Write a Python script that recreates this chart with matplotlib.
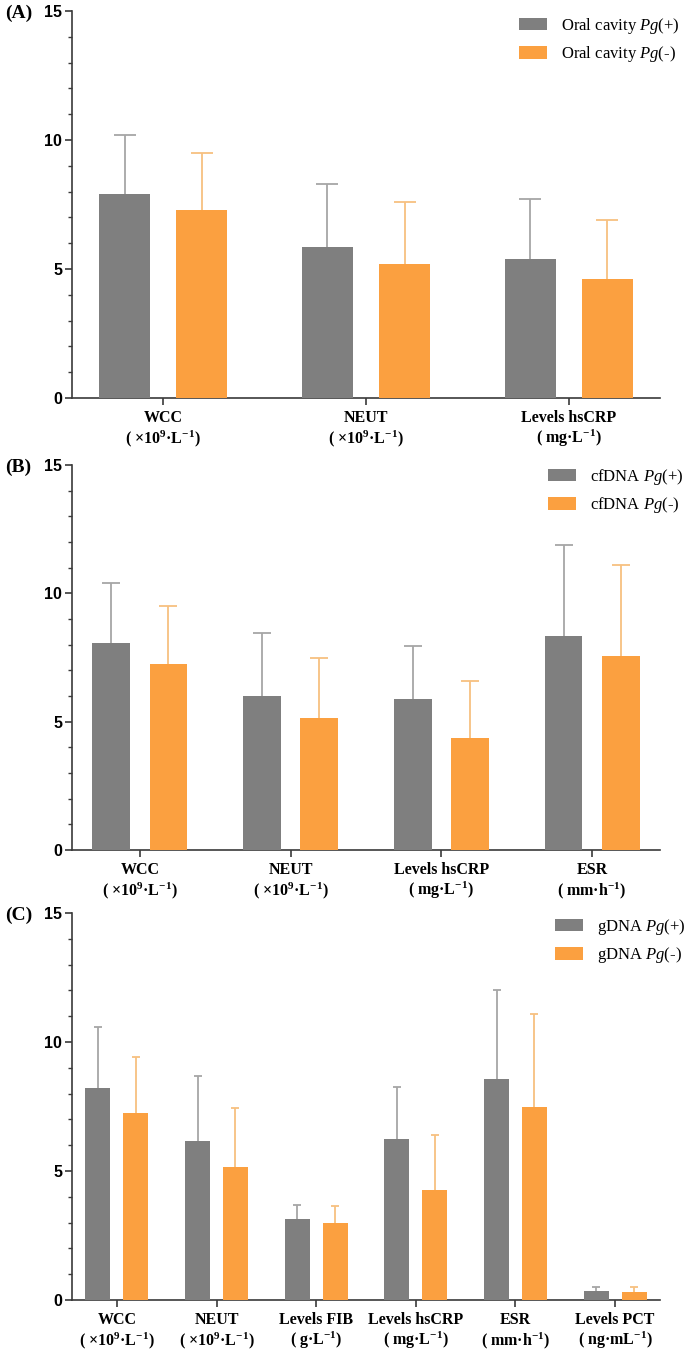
import numpy as np
import matplotlib
matplotlib.use('Agg')
import matplotlib.pyplot as plt

plt.rcParams['mathtext.fontset'] = 'custom'
plt.rcParams['mathtext.rm'] = 'Liberation Serif:bold'
plt.rcParams['mathtext.it'] = 'Liberation Serif:italic'
plt.rcParams['mathtext.bf'] = 'Liberation Serif:bold'

# category labels
lab_wcc = 'WCC\n( ×10$^{9}$·L$^{-1}$)'
lab_neut = 'NEUT\n( ×10$^{9}$·L$^{-1}$)'
lab_fib = 'Levels FIB\n( g·L$^{-1}$)'
lab_crp = 'Levels hsCRP\n( mg·L$^{-1}$)'
lab_esr = 'ESR\n( mm·h$^{-1}$)'
lab_pct = 'Levels PCT\n( ng·mL$^{-1}$)'

# panel A - oral cavity
cats_a = [lab_wcc, lab_neut, lab_crp]
pos_a = [7.9, 5.85, 5.4]
pos_a_top = [10.2, 8.3, 7.7]
neg_a = [7.3, 5.2, 4.6]
neg_a_top = [9.5, 7.6, 6.9]

# panel B - cfDNA
cats_b = [lab_wcc, lab_neut, lab_crp, lab_esr]
pos_b = [8.05, 6.0, 5.9, 8.35]
pos_b_top = [10.4, 8.45, 7.95, 11.9]
neg_b = [7.25, 5.15, 4.35, 7.55]
neg_b_top = [9.5, 7.5, 6.6, 11.1]

# panel C - gDNA
cats_c = [lab_wcc, lab_neut, lab_fib, lab_crp, lab_esr, lab_pct]
pos_c = [8.2, 6.15, 3.15, 6.25, 8.55, 0.35]
pos_c_top = [10.6, 8.7, 3.7, 8.25, 12.0, 0.5]
neg_c = [7.25, 5.15, 3.0, 4.25, 7.5, 0.3]
neg_c_top = [9.4, 7.45, 3.65, 6.4, 11.1, 0.5]

GRAY = '#7f7f7f'
ORANGE = '#fba040'
GRAY_ERR = '#a6a6a6'
ORANGE_ERR = '#f7c080'
SPINE = '#3a3a3a'

W, H = 685, 1351
fig = plt.figure(figsize=(W / 100, H / 100), dpi=100)


def upper_err(ax, xs, vals, tops, color, capsize):
    # only the upper half of the error bar, no cap at the bar top
    vals = np.array(vals)
    _, caps, _ = ax.errorbar(xs, vals, yerr=[np.zeros_like(vals), np.array(tops) - vals],
                             fmt='none', ecolor=color, elinewidth=1.3,
                             capsize=capsize, capthick=1.3, zorder=2)
    caps[0].remove()


def panel(rect, cats, pos, pos_top, neg, neg_top, names, letter, capsize, leg_xy):
    ax = fig.add_axes(rect)
    x = np.arange(len(cats))
    off, bw = 0.19, 0.25
    ax.bar(x - off, pos, bw, color=GRAY, label=names[0], zorder=3)
    ax.bar(x + off, neg, bw, color=ORANGE, label=names[1], zorder=3)
    upper_err(ax, x - off, pos, pos_top, GRAY_ERR, capsize)
    upper_err(ax, x + off, neg, neg_top, ORANGE_ERR, capsize)
    ax.set_xlim(-0.45, len(cats) - 0.55)
    ax.set_ylim(0, 15)
    ax.set_yticks([0, 5, 10, 15])
    ax.set_yticks(np.arange(0, 16, 1), minor=True)
    ax.set_xticks(x)
    ax.set_xticklabels(cats, fontfamily='Liberation Serif', fontweight='bold',
                       fontsize=11.5, linespacing=1.1)
    for t in ax.get_yticklabels():
        t.set_fontfamily('Liberation Sans')
        t.set_fontweight('bold')
        t.set_fontsize(11.5)
    for s in ['top', 'right']:
        ax.spines[s].set_visible(False)
    for s in ['left', 'bottom']:
        ax.spines[s].set_color(SPINE)
        ax.spines[s].set_linewidth(1.2)
    ax.tick_params(axis='both', which='major', length=5, width=1.2, color=SPINE, pad=2)
    ax.tick_params(axis='y', which='minor', length=3, width=1.0, color=SPINE)
    ax.tick_params(axis='x', which='minor', bottom=False)
    ax.tick_params(axis='x', pad=4)
    fig.legend(handles=ax.get_legend_handles_labels()[0], labels=names,
               loc='upper left', bbox_to_anchor=leg_xy, frameon=False,
               prop={'family': 'Liberation Serif', 'size': 12},
               handlelength=1.7, handleheight=0.75, handletextpad=0.8,
               labelspacing=0.5, borderpad=0, borderaxespad=0)
    fig.text(0.008, rect[1] + rect[3] - 0.002, letter, fontfamily='Liberation Serif',
             fontweight='bold', fontsize=14, va='center', ha='left')
    return ax


def frac(left, top, right, bottom):
    return [left / W, 1 - bottom / H, (right - left) / W, (bottom - top) / H]


panel(frac(72, 11, 660, 398), cats_a, pos_a, pos_a_top, neg_a, neg_a_top,
      ['Oral cavity $Pg$(+)', 'Oral cavity $Pg$(-)'], '(A)', 8,
      (519 / W, 1 - 16 / H))
panel(frac(72, 465, 660, 850), cats_b, pos_b, pos_b_top, neg_b, neg_b_top,
      ['cfDNA $Pg$(+)', 'cfDNA $Pg$(-)'], '(B)', 6.5,
      (548 / W, 1 - 467 / H))
panel(frac(72, 913, 660, 1300), cats_c, pos_c, pos_c_top, neg_c, neg_c_top,
      ['gDNA $Pg$(+)', 'gDNA $Pg$(-)'], '(C)', 3,
      (555 / W, 1 - 917 / H))

fig.savefig('out.png', dpi=100)
